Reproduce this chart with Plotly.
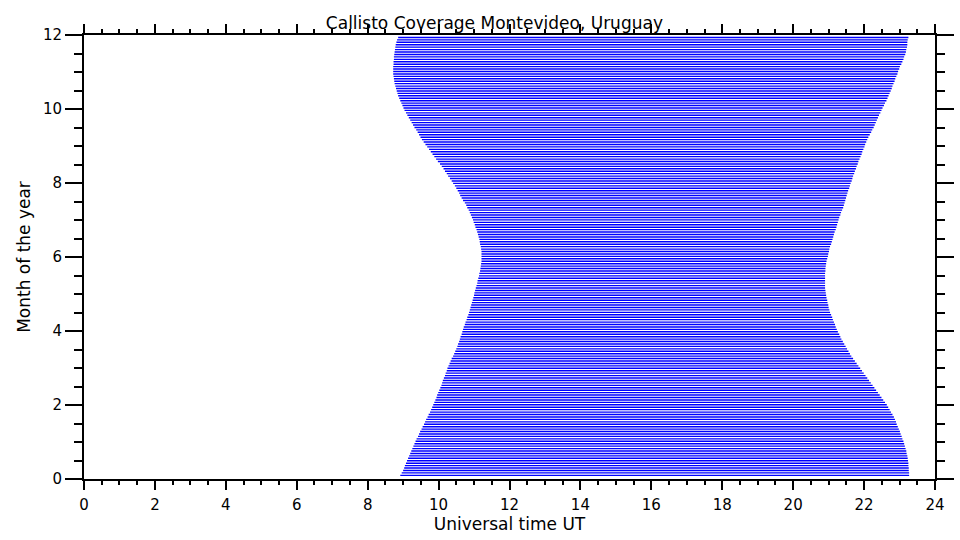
import plotly.graph_objects as go

# Day of year for each coverage line (every second day)
days = list(range(3, 364, 2))

# Start of coverage (UT hours), one per line
start_ut = [
    8.92, 8.96, 9.00, 9.03, 9.05, 9.08, 9.11, 9.14, 9.17, 9.20,
    9.23, 9.26, 9.29, 9.32, 9.35, 9.38, 9.42, 9.45, 9.48, 9.52,
    9.55, 9.59, 9.62, 9.65, 9.69, 9.72, 9.76, 9.79, 9.82, 9.85,
    9.88, 9.91, 9.94, 9.96, 9.99, 10.02, 10.05, 10.08, 10.10, 10.12,
    10.15, 10.18, 10.20, 10.23, 10.25, 10.28, 10.31, 10.34, 10.37, 10.41,
    10.44, 10.47, 10.50, 10.53, 10.55, 10.58, 10.60, 10.62, 10.65, 10.67,
    10.69, 10.71, 10.74, 10.76, 10.79, 10.81, 10.84, 10.86, 10.88, 10.90,
    10.92, 10.94, 10.96, 10.98, 11.00, 11.01, 11.03, 11.05, 11.07, 11.09,
    11.10, 11.12, 11.14, 11.15, 11.17, 11.18, 11.19, 11.20, 11.21, 11.21,
    11.21, 11.21, 11.21, 11.20, 11.19, 11.17, 11.16, 11.15, 11.13, 11.11,
    11.09, 11.07, 11.04, 11.02, 10.99, 10.97, 10.94, 10.91, 10.88, 10.85,
    10.81, 10.78, 10.74, 10.69, 10.65, 10.61, 10.58, 10.54, 10.50, 10.46,
    10.41, 10.37, 10.32, 10.27, 10.23, 10.18, 10.14, 10.09, 10.04, 9.98,
    9.93, 9.88, 9.83, 9.78, 9.73, 9.68, 9.63, 9.58, 9.53, 9.49,
    9.45, 9.41, 9.37, 9.32, 9.28, 9.24, 9.20, 9.16, 9.12, 9.08,
    9.04, 9.01, 8.98, 8.95, 8.92, 8.89, 8.86, 8.84, 8.82, 8.80,
    8.78, 8.76, 8.75, 8.74, 8.73, 8.72, 8.72, 8.72, 8.72, 8.73,
    8.73, 8.74, 8.74, 8.75, 8.76, 8.77, 8.78, 8.79, 8.81, 8.83,
    8.86,
]

# End of coverage (UT hours), one per line
end_ut = [
    23.27, 23.27, 23.26, 23.26, 23.25, 23.25, 23.24, 23.23, 23.22, 23.20,
    23.19, 23.17, 23.15, 23.13, 23.11, 23.08, 23.06, 23.03, 23.01, 22.98,
    22.95, 22.92, 22.90, 22.87, 22.84, 22.80, 22.76, 22.72, 22.68, 22.64,
    22.59, 22.54, 22.49, 22.44, 22.39, 22.34, 22.29, 22.24, 22.19, 22.14,
    22.09, 22.04, 21.99, 21.94, 21.89, 21.84, 21.79, 21.74, 21.69, 21.64,
    21.60, 21.56, 21.52, 21.48, 21.44, 21.40, 21.36, 21.33, 21.30, 21.26,
    21.23, 21.20, 21.18, 21.15, 21.12, 21.10, 21.07, 21.04, 21.02, 21.00,
    20.99, 20.97, 20.96, 20.94, 20.93, 20.92, 20.91, 20.90, 20.90, 20.90,
    20.90, 20.90, 20.90, 20.90, 20.91, 20.91, 20.92, 20.93, 20.94, 20.96,
    20.98, 20.99, 21.01, 21.02, 21.04, 21.07, 21.09, 21.11, 21.13, 21.15,
    21.17, 21.20, 21.22, 21.24, 21.26, 21.28, 21.30, 21.33, 21.35, 21.38,
    21.41, 21.43, 21.45, 21.47, 21.49, 21.51, 21.53, 21.55, 21.58, 21.60,
    21.62, 21.65, 21.67, 21.69, 21.72, 21.74, 21.77, 21.79, 21.82, 21.84,
    21.87, 21.90, 21.93, 21.95, 21.98, 22.01, 22.03, 22.06, 22.09, 22.12,
    22.16, 22.20, 22.23, 22.27, 22.30, 22.33, 22.36, 22.39, 22.42, 22.46,
    22.49, 22.52, 22.56, 22.59, 22.63, 22.66, 22.69, 22.72, 22.75, 22.78,
    22.80, 22.83, 22.86, 22.88, 22.91, 22.94, 22.96, 22.99, 23.01, 23.05,
    23.08, 23.11, 23.13, 23.16, 23.18, 23.19, 23.21, 23.22, 23.22, 23.23,
    23.25,
]

x_ticks = [0, 2, 4, 6, 8, 10, 12, 14, 16, 18, 20, 22, 24]
y_ticks = [0, 2, 4, 6, 8, 10, 12]

# Month position of each line
months = [d * 12.0 / 365.0 for d in days]

xs, ys = [], []
for m, s, e in zip(months, start_ut, end_ut):
    xs += [s, e, None]
    ys += [m, m, None]

fig = go.Figure()
fig.add_trace(go.Scatter(
    x=xs, y=ys, mode="lines",
    line=dict(color="#0000FF", width=1.4),
    hoverinfo="skip", showlegend=False,
))

FONT = "DejaVu Sans"
axis_common = dict(
    showgrid=False, zeroline=False, automargin=False,
    showline=True, linecolor="black", linewidth=2,
    mirror="ticks", ticks="outside", tickcolor="black", tickwidth=2,
    tickfont=dict(family=FONT, size=15, color="black"),
)

fig.update_xaxes(
    range=[0, 24], tickvals=x_ticks, ticktext=[str(v) for v in x_ticks],
    ticklen=9, ticklabelstandoff=2,
    minor=dict(dtick=0.5, ticklen=4, tickwidth=2, tickcolor="black", ticks="outside"),
    title=dict(text="Universal time UT", font=dict(family=FONT, size=17, color="black"), standoff=2),
    **axis_common,
)
fig.update_yaxes(
    range=[0, 12], tickvals=y_ticks, ticktext=[str(v) for v in y_ticks],
    ticklen=17,
    minor=dict(dtick=0.5, ticklen=8, tickwidth=2, tickcolor="black", ticks="outside"),
    title=dict(text="Month of the year", font=dict(family=FONT, size=17, color="black"), standoff=8),
    **axis_common,
)

fig.update_layout(
    width=960, height=540,
    margin=dict(l=84, r=25, t=35, b=61),
    paper_bgcolor="white", plot_bgcolor="white",
    title=dict(
        text="Callisto Coverage Montevideo, Uruguay",
        font=dict(family=FONT, size=17, color="black"),
        x=0.515, xanchor="center", y=0.958, yanchor="middle",
    ),
)

fig.write_html("out.html")
